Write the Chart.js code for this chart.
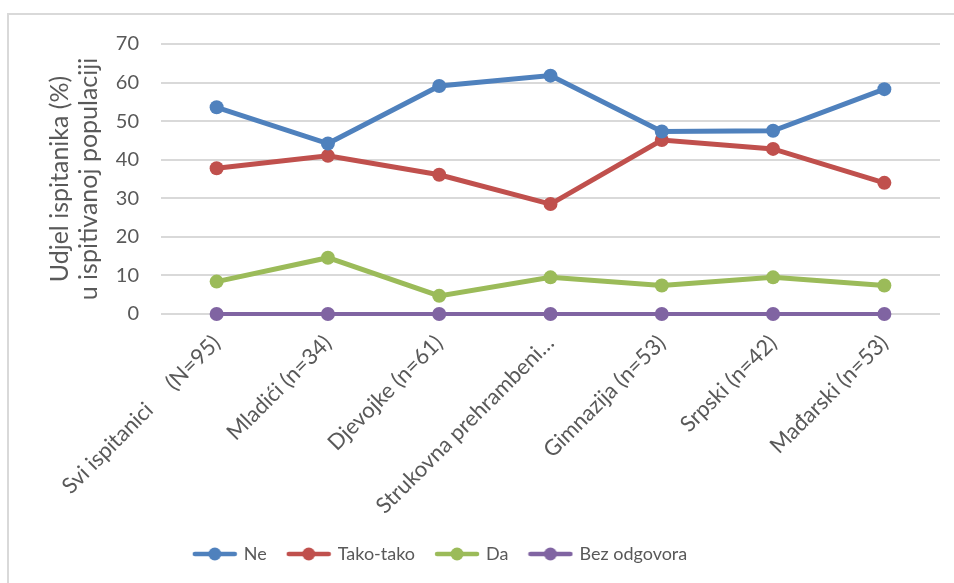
<!DOCTYPE html>
<html>
<head>
<meta charset="utf-8">
<script src="https://cdn.jsdelivr.net/npm/chart.js@4"></script>
<style>
  html, body { margin: 0; padding: 0; background: #fff; }
  #okvir {
    position: absolute; left: 0; top: 0; width: 954px; height: 583px;
  }
  #rub {
    position: absolute; left: 7px; top: 13px; right: 0; bottom: 0;
    border-left: 2px solid #d9d9d9; border-top: 2px solid #d9d9d9;
  }
  canvas { position: absolute; left: 0; top: 0; }
</style>
</head>
<body>
<div id="okvir">
  <div id="rub"></div>
  <canvas id="grafikon" width="954" height="583"></canvas>
</div>
<script>
// Kategorije (os x)
const kategorije = [
  'Svi ispitanici     (N=95)',
  'Mladići (n=34)',
  'Djevojke (n=61)',
  'Strukovna prehrambeni…',
  'Gimnazija (n=53)',
  'Srpski (n=42)',
  'Mađarski (n=53)'
];

// Vrijednosti po seriji (%)
const ne        = [53.6, 44.2, 59.1, 61.8, 47.3, 47.5, 58.3];
const takoTako  = [37.8, 41.0, 36.1, 28.5, 45.1, 42.8, 34.0];
const da        = [8.4, 14.6, 4.7, 9.5, 7.4, 9.5, 7.4];
const bezOdg    = [0, 0, 0, 0, 0, 0, 0];

const nazivi = ['Ne', 'Tako-tako', 'Da', 'Bez odgovora'];
const boje = ['#4f81bd', '#c0504d', '#9bbb59', '#8064a2'];
const yTicks = [0, 10, 20, 30, 40, 50, 60, 70];

const FONT = "Lato, 'Open Sans', sans-serif";
const SIVA = '#595959';

// ikona za legendu: crta s tockom
function ikona(boja) {
  const c = document.createElement('canvas');
  c.width = 46; c.height = 16;
  const g = c.getContext('2d');
  g.strokeStyle = boja;
  g.lineWidth = 4.5;
  g.lineCap = 'round';
  g.beginPath(); g.moveTo(3, 8); g.lineTo(43, 8); g.stroke();
  g.fillStyle = boja;
  g.beginPath(); g.arc(23, 8, 6.5, 0, Math.PI * 2); g.fill();
  return c;
}
const ikone = boje.map(ikona);

const serije = [ne, takoTako, da, bezOdg].map((vrijednosti, i) => ({
  label: nazivi[i],
  data: vrijednosti,
  borderColor: boje[i],
  backgroundColor: boje[i],
  borderWidth: i === 3 ? 4 : 5,
  pointRadius: 7,
  pointHoverRadius: 7,
  pointBorderWidth: 0,
  pointStyle: 'circle',
  tension: 0,
  clip: false
}));

// pomak legende ulijevo (kao u izvorniku)
const pomakLegende = {
  id: 'pomakLegende',
  afterLayout(chart) {
    const l = chart.legend;
    if (l) { l.left -= 33; l.right -= 33; }
  }
};

new Chart(document.getElementById('grafikon'), {
  type: 'line',
  data: { labels: kategorije, datasets: serije },
  plugins: [pomakLegende],
  options: {
    responsive: false,
    animation: false,
    layout: { padding: { left: 8, right: 14, top: 44, bottom: 10 } },
    plugins: {
      legend: {
        position: 'bottom',
        labels: {
          usePointStyle: true,
          pointStyleWidth: 40,
          padding: 22,
          color: SIVA,
          font: { family: FONT, size: 18 },
          generateLabels(chart) {
            return chart.data.datasets.map((ds, i) => ({
              text: ds.label,
              fillStyle: ds.backgroundColor,
              strokeStyle: ds.borderColor,
              fontColor: SIVA,
              lineWidth: 0,
              pointStyle: ikone[i],
              hidden: false,
              datasetIndex: i
            }));
          }
        }
      },
      tooltip: { enabled: false }
    },
    scales: {
      x: {
        offset: true,
        grid: { display: false, drawTicks: false },
        border: { display: false },
        afterFit(s) { s.height = 209; },
        ticks: {
          minRotation: 45,
          maxRotation: 45,
          padding: 16,
          color: SIVA,
          font: { family: FONT, size: 22 }
        }
      },
      y: {
        min: 0,
        max: 70,
        afterFit(s) { s.width = 153; },
        afterBuildTicks(s) { s.ticks = yTicks.map(v => ({ value: v })); },
        grid: { color: '#d9d9d9', lineWidth: 2, drawTicks: false },
        border: { display: false },
        ticks: {
          padding: 22,
          color: SIVA,
          font: { family: FONT, size: 20 }
        },
        title: {
          display: true,
          text: ['Udjel ispitanika (%)', 'u ispitivanoj populaciji'],
          color: SIVA,
          font: { family: FONT, size: 25, lineHeight: 1.15 },
          padding: { top: 38, bottom: 0 }
        }
      }
    }
  }
});
</script>
</body>
</html>
